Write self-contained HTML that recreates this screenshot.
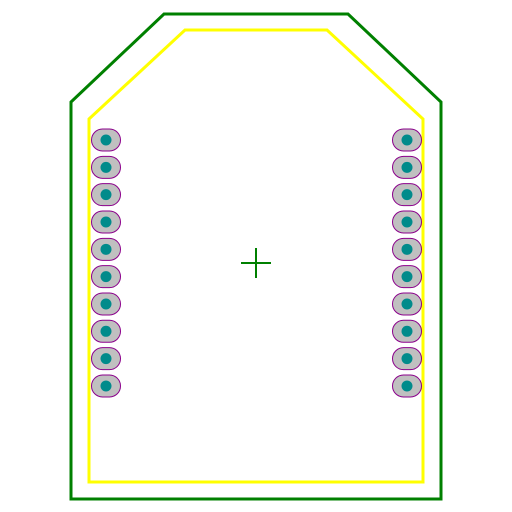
<!DOCTYPE html>
<html><head><meta charset="utf-8"><style>html,body{margin:0;padding:0;background:#fff}svg{display:block}</style></head>
<body>
<svg width="512" height="512" viewBox="0 0 512 512">
<polygon points="71,102 164,14 348,14 441,102 441,499 71,499" fill="none" stroke="#008000" stroke-width="3"/>
<polygon points="89,119 185,30 327,30 423,119 423,482 89,482" fill="none" stroke="#ffff00" stroke-width="3"/>
<g id="pads"></g>
<g stroke="#008000" stroke-width="2">
<line x1="241" y1="263" x2="271" y2="263"/><line x1="256" y1="248" x2="256" y2="278"/>
</g>
</svg>
<script>
const leftPads=[1,2,3,4,5,6,7,8,9,10];
const rightPads=[1,2,3,4,5,6,7,8,9,10];
const g=document.getElementById('pads');
const ns='http://www.w3.org/2000/svg';
function pad(cx,cy,name){
  const grp=document.createElementNS(ns,'g');
  
  
  const r=document.createElementNS(ns,'rect');
  r.setAttribute('x',cx-14.5);r.setAttribute('y',cy-11);r.setAttribute('width',29);r.setAttribute('height',22);
  r.setAttribute('rx',11);r.setAttribute('fill','#c0c0c0');r.setAttribute('stroke','#8b008b');r.setAttribute('stroke-width','1');
  const c=document.createElementNS(ns,'circle');
  c.setAttribute('cx',cx);c.setAttribute('cy',cy);c.setAttribute('r',5.5);c.setAttribute('fill','#008b8b');
  grp.appendChild(r);grp.appendChild(c);g.appendChild(grp);
}
leftPads.forEach((p,i)=>pad(106,140+i*27.33,'pad-left-'+p));
rightPads.forEach((p,i)=>pad(407,140+i*27.33,'pad-right-'+p));
</script>
</body></html>
